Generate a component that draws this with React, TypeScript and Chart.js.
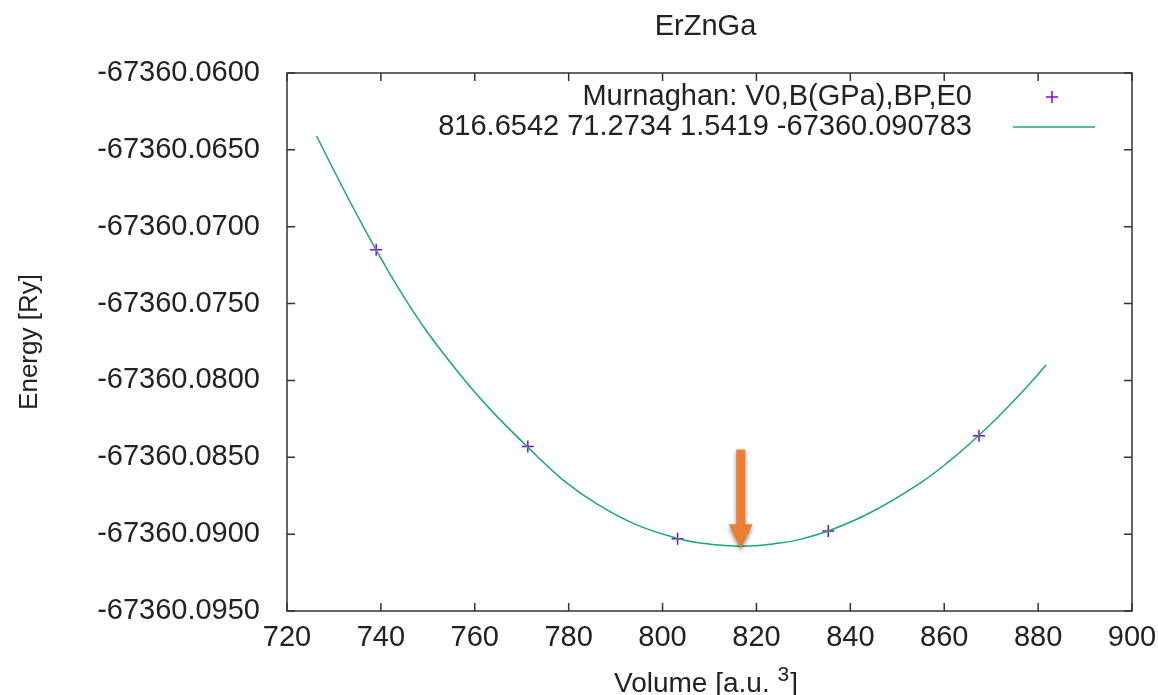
import React, { useEffect, useRef } from "react";
import { Chart, registerables } from "chart.js";

Chart.register(...registerables);

// ---- data ----
const TITLE = "ErZnGa";
const X_TITLE_MAIN = "Volume [a.u. ";
const X_TITLE_SUP = "3";
const X_TITLE_END = "]";
const Y_TITLE = "Energy [Ry]";
const LEGEND_POINTS = "Murnaghan: V0,B(GPa),BP,E0";
const LEGEND_FIT = "816.6542 71.2734 1.5419 -67360.090783";

// measured points (purple +)
const pointV = [739.0, 771.3, 803.2, 835.3, 867.4];
const pointE = [-67360.0715, -67360.0843, -67360.0903, -67360.0898, -67360.0836];

// fitted curve
const curveV = [726.3, 729.9, 733.4, 737.0, 739.0, 744.1, 749.8, 757.9, 764.0, 771.3, 778.9, 786.0, 794.5, 803.2, 808.0, 816.7, 825.0, 829.3, 835.7, 844.2, 854.8, 861.2, 867.4, 871.2, 876.9, 881.7];
const curveE = [-67360.06410, -67360.06628, -67360.06836, -67360.07041, -67360.07152, -67360.07418, -67360.07682, -67360.08001, -67360.08211, -67360.08434, -67360.08650, -67360.08803, -67360.08940, -67360.09028, -67360.09057, -67360.09078, -67360.09058, -67360.09034, -67360.08975, -67360.08861, -67360.08669, -67360.08522, -67360.08357, -67360.08246, -67360.08065, -67360.07900];

// arrow marking V0 / E0
const arrowV = 816.6542;
const arrowTopE = -67360.0845;
const arrowTipE = -67360.090783;

const X_MIN = 720, X_MAX = 900, X_STEP = 20;
const Y_MIN = -67360.095, Y_MAX = -67360.06, Y_STEP = 0.005;

const FONT = "'Liberation Sans', Arial, sans-serif";
const FS = 29;
const POINT_COLOR = "#9400d3";
const LINE_COLOR = "#17a77f";
const AXIS_COLOR = "#333333";
const TEXT_COLOR = "#222222";

const framePlugin = {
  id: "frame",
  afterDraw(chart: any) {
    const { ctx, chartArea: a, scales } = chart;
    const x = scales.x, y = scales.y;
    ctx.save();
    ctx.strokeStyle = AXIS_COLOR;
    ctx.lineWidth = 1.5;
    ctx.strokeRect(a.left, a.top, a.right - a.left, a.bottom - a.top);
    const tl = 8;
    ctx.beginPath();
    x.ticks.forEach((t: any) => {
      const px = x.getPixelForValue(t.value);
      ctx.moveTo(px, a.bottom);
      ctx.lineTo(px, a.bottom - tl);
      ctx.moveTo(px, a.top);
      ctx.lineTo(px, a.top + tl);
    });
    y.ticks.forEach((t: any) => {
      const py = y.getPixelForValue(t.value);
      ctx.moveTo(a.left, py);
      ctx.lineTo(a.left + tl, py);
      ctx.moveTo(a.right, py);
      ctx.lineTo(a.right - tl, py);
    });
    ctx.stroke();

    const cx = (a.left + a.right) / 2 - 4;

    // title
    ctx.fillStyle = TEXT_COLOR;
    ctx.textBaseline = "middle";
    ctx.textAlign = "center";
    ctx.font = `${FS}px ${FONT}`;
    ctx.fillText(TITLE, cx, 27);

    // x axis title with superscript
    const mainFont = `28px ${FONT}`;
    const supFont = `21px ${FONT}`;
    ctx.textBaseline = "alphabetic";
    ctx.textAlign = "left";
    ctx.font = mainFont;
    const w1 = ctx.measureText(X_TITLE_MAIN).width;
    const w3 = ctx.measureText(X_TITLE_END).width;
    ctx.font = supFont;
    const w2 = ctx.measureText(X_TITLE_SUP).width;
    let sx = cx - (w1 + w2 + w3) / 2;
    const base = 692;
    ctx.font = mainFont;
    ctx.fillText(X_TITLE_MAIN, sx, base);
    sx += w1;
    ctx.font = supFont;
    ctx.fillText(X_TITLE_SUP, sx, base - 11);
    sx += w2 + 1;
    ctx.font = mainFont;
    ctx.fillText(X_TITLE_END, sx, base);

    // legend (text right-aligned, sample on the right)
    ctx.font = `29px ${FONT}`;
    ctx.textAlign = "right";
    ctx.textBaseline = "middle";
    const textRight = a.right - 160;
    const sampleX = a.right - 80;
    const y1 = a.top + 24;
    const y2 = a.top + 54;
    ctx.fillText(chart.data.datasets[0].label, textRight, y1);
    ctx.fillText(chart.data.datasets[1].label, textRight, y2);
    ctx.strokeStyle = POINT_COLOR;
    ctx.lineWidth = 1.5;
    ctx.beginPath();
    ctx.moveTo(sampleX - 6, y1);
    ctx.lineTo(sampleX + 6, y1);
    ctx.moveTo(sampleX, y1 - 6);
    ctx.lineTo(sampleX, y1 + 6);
    ctx.stroke();
    ctx.strokeStyle = LINE_COLOR;
    ctx.beginPath();
    ctx.moveTo(sampleX - 39, y2);
    ctx.lineTo(sampleX + 43, y2);
    ctx.stroke();
    ctx.restore();
  },
  afterDatasetsDraw(chart: any) {
    const { ctx, scales } = chart;
    const px = scales.x.getPixelForValue(arrowV);
    const top = scales.y.getPixelForValue(arrowTopE);
    const tip = scales.y.getPixelForValue(arrowTipE) + 2;
    const shaftHalf = 4.5;
    const headHalf = 12;
    const headLen = 24;
    ctx.save();
    ctx.shadowColor = "rgba(0,0,0,0.45)";
    ctx.shadowBlur = 4;
    ctx.shadowOffsetX = 0;
    ctx.shadowOffsetY = 3;
    ctx.fillStyle = "#ed7d31";
    ctx.beginPath();
    ctx.moveTo(px - shaftHalf, top);
    ctx.lineTo(px + shaftHalf, top);
    ctx.lineTo(px + shaftHalf, tip - headLen);
    ctx.lineTo(px + headHalf, tip - headLen);
    ctx.lineTo(px, tip);
    ctx.lineTo(px - headHalf, tip - headLen);
    ctx.lineTo(px - shaftHalf, tip - headLen);
    ctx.closePath();
    ctx.fill();
    ctx.restore();
  },
};

export default function App() {
  const ref = useRef<HTMLCanvasElement | null>(null);
  useEffect(() => {
    if (!ref.current) return;
    const chart = new Chart(ref.current, {
      type: "scatter",
      data: {
        datasets: [
          {
            label: LEGEND_POINTS,
            data: pointV.map((v, i) => ({ x: v, y: pointE[i] })),
            pointStyle: "cross",
            pointRadius: 6,
            pointBorderWidth: 1.5,
            borderColor: POINT_COLOR,
            backgroundColor: POINT_COLOR,
            showLine: false,
            order: 2,
          },
          {
            label: LEGEND_FIT,
            data: curveV.map((v, i) => ({ x: v, y: curveE[i] })),
            showLine: true,
            pointRadius: 0,
            borderColor: LINE_COLOR,
            borderWidth: 1.5,
            tension: 0.4,
            order: 1,
          } as any,
        ],
      },
      options: {
        responsive: false,
        animation: false,
        layout: { padding: { left: 0, right: 26, top: 73, bottom: 0 } },
        plugins: {
          legend: { display: false },
          tooltip: { enabled: false },
          title: { display: false },
        },
        scales: {
          x: {
            type: "linear",
            min: X_MIN,
            max: X_MAX,
            afterFit: (s: any) => { s.height = 84; s.paddingRight = 0; s.paddingLeft = 0; },
            ticks: {
              stepSize: X_STEP,
              color: TEXT_COLOR,
              font: { family: FONT, size: FS },
              padding: 10,
              maxRotation: 0,
            },
            grid: { display: false, drawTicks: false },
            border: { display: false },
            title: { display: false },
          },
          y: {
            type: "linear",
            min: Y_MIN,
            max: Y_MAX,
            afterFit: (s: any) => { s.width = 287; s.paddingTop = 0; s.paddingBottom = 0; },
            ticks: {
              stepSize: Y_STEP,
              color: TEXT_COLOR,
              font: { family: FONT, size: FS },
              padding: 27,
              callback: (v: any) => Number(v).toFixed(4),
            },
            grid: { display: false, drawTicks: false },
            border: { display: false },
            title: {
              display: true,
              text: Y_TITLE,
              color: TEXT_COLOR,
              font: { family: FONT, size: 26 },
              padding: { top: 14, bottom: 0 },
            },
          },
        },
      },
      plugins: [framePlugin],
    });
    return () => chart.destroy();
  }, []);
  return (
    <div style={{ position: "absolute", left: 0, top: 0, width: 1158, height: 695, background: "#fff" }}>
      <canvas ref={ref} width={1158} height={695} />
    </div>
  );
}
